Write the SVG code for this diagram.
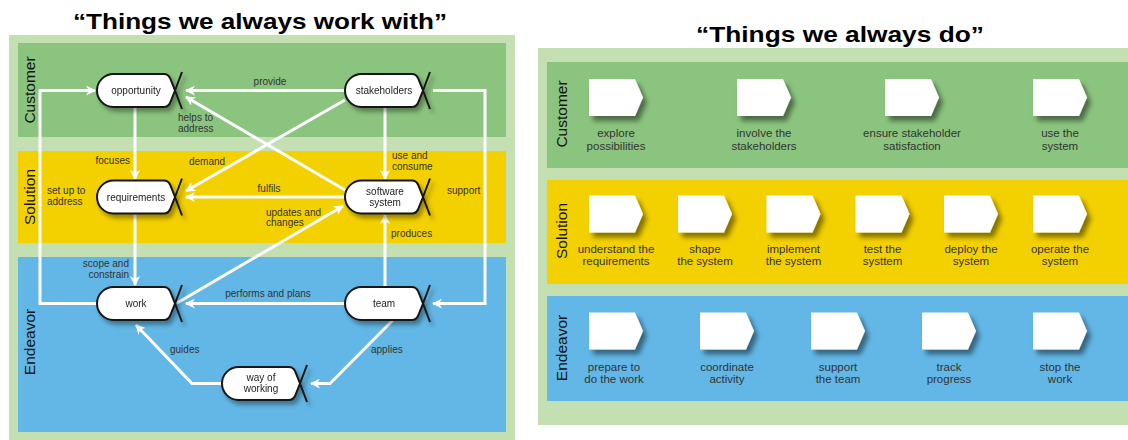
<svg xmlns="http://www.w3.org/2000/svg" width="1128" height="440" viewBox="0 0 1128 440">
  <style>
    .title { font-family: "Liberation Sans", Arial, sans-serif; font-weight: bold; font-size: 22px; fill: #000; }
    .lane { font-family: "Liberation Sans", Arial, sans-serif; font-size: 15.5px; fill: #111; }
    .lbl { font-family: "Liberation Sans", Arial, sans-serif; font-size: 10px; fill: #333; }
    .nlbl { font-family: "Liberation Sans", Arial, sans-serif; font-size: 10px; fill: #222; text-anchor: middle; }
    .alpha { font-family: "Liberation Sans", Arial, sans-serif; font-size: 11.5px; fill: #333; text-anchor: middle; }
    .conn { fill: none; stroke: #fff; stroke-width: 3; stroke-linejoin: miter; }
    .pill { fill: #fff; stroke: #151515; stroke-width: 2; }
    .xline { fill: none; stroke: #151515; stroke-width: 2; }
    .chev { fill: #fff; }
    .outer { fill: #c4dfb1; }
    .cust { fill: #8bc47e; }
    .sol { fill: #f3d000; }
    .end { fill: #62b7e6; }
  </style>
  <defs>
    <marker id="ah" viewBox="0 0 10 10" refX="9" refY="5" markerWidth="10" markerHeight="10" markerUnits="userSpaceOnUse" orient="auto">
      <path d="M0,0 L10,5 L0,10 L3,5 Z" fill="#fff"/>
    </marker>
    <filter id="nshadow" x="-20%" y="-40%" width="150%" height="190%">
      <feDropShadow dx="3" dy="4" stdDeviation="2" flood-color="#000" flood-opacity="0.35"/>
    </filter>
    <filter id="cshadow" x="-30%" y="-30%" width="170%" height="170%">
      <feDropShadow dx="4" dy="5" stdDeviation="2.5" flood-color="#000" flood-opacity="0.45"/>
    </filter>
    <!-- rounded state node with crossed tail, origin at top-left -->
    <g id="node">
      <path class="pill" d="M16.5,0 H67 Q71,0 73,4 L78,16.5 L73,29 Q71,33 67,33 H16.5 A16.5,16.5 0 0 1 16.5,0 Z"/>
      <path class="xline" d="M78,16.5 L85,35 M78,16.5 L85,-2"/>
    </g>
    <!-- activity space shape -->
    <path id="act" class="chev" d="M0,0 H46 L54,18.5 L46,37 H0 Z"/>
  </defs>

  <!-- ===== Alphas: things we always work with ===== -->
  <text class="title" x="260" y="29" text-anchor="middle" textLength="374" lengthAdjust="spacingAndGlyphs">“Things we always work with”</text>
  <g id="alpha-lanes">
    <rect class="outer" x="9" y="35" width="506" height="405"/>
    <rect class="cust" x="18" y="43" width="488" height="94"/>
    <rect class="sol" x="18" y="151" width="488" height="92"/>
    <rect class="end" x="18" y="257" width="488" height="175"/>
    <text class="lane" transform="translate(35,90) rotate(-90)" text-anchor="middle">Customer</text>
    <text class="lane" transform="translate(35,197) rotate(-90)" text-anchor="middle">Solution</text>
    <text class="lane" transform="translate(35,342) rotate(-90)" text-anchor="middle">Endeavor</text>
  </g>

  <g id="connectors">
    <path class="conn" marker-end="url(#ah)" d="M345,90.5 H186"/>
    <path class="conn" marker-end="url(#ah)" d="M97,303.5 H40 V90.5 H95"/>
    <path class="conn" marker-end="url(#ah)" d="M135,107 V179"/>
    <path class="conn" marker-end="url(#ah)" d="M135,213.5 V285"/>
    <path class="conn" marker-end="url(#ah)" d="M345,100 L186,191"/>
    <path class="conn" marker-end="url(#ah)" d="M345,190 L186,97"/>
    <path class="conn" marker-end="url(#ah)" d="M345,197 H186"/>
    <path class="conn" marker-end="url(#ah)" d="M177,303 L343,206"/>
    <path class="conn" marker-end="url(#ah)" d="M385,107 V179"/>
    <path class="conn" marker-end="url(#ah)" d="M385,287 V215"/>
    <path class="conn" marker-end="url(#ah)" d="M433,90.5 H485 V303.5 H433"/>
    <path class="conn" marker-end="url(#ah)" d="M345,303.5 H186"/>
    <path class="conn" marker-end="url(#ah)" d="M393,320 L330,383.5 H311"/>
    <path class="conn" marker-end="url(#ah)" d="M222,383.5 H192 L136,325"/>

    <text class="lbl" x="270" y="85" text-anchor="middle">provide</text>
    <text class="lbl" x="47" y="194">set up to</text>
    <text class="lbl" x="47" y="205">address</text>
    <text class="lbl" x="130" y="164" text-anchor="end">focuses</text>
    <text class="lbl" x="129" y="267" text-anchor="end">scope and</text>
    <text class="lbl" x="129" y="278" text-anchor="end">constrain</text>
    <text class="lbl" x="189" y="165">demand</text>
    <text class="lbl" x="178" y="121">helps to</text>
    <text class="lbl" x="178" y="132">address</text>
    <text class="lbl" x="269" y="192" text-anchor="middle">fulfils</text>
    <text class="lbl" x="266" y="216">updates and</text>
    <text class="lbl" x="266" y="226">changes</text>
    <text class="lbl" x="392" y="159">use and</text>
    <text class="lbl" x="392" y="170">consume</text>
    <text class="lbl" x="391" y="237">produces</text>
    <text class="lbl" x="447" y="194">support</text>
    <text class="lbl" x="268" y="297" text-anchor="middle">performs and plans</text>
    <text class="lbl" x="371" y="353">applies</text>
    <text class="lbl" x="170" y="353">guides</text>
  </g>

  <g id="opportunity" filter="url(#nshadow)">
    <use href="#node" x="97" y="74"/>
    <text class="nlbl" x="136" y="94">opportunity</text>
  </g>
  <g id="stakeholders" filter="url(#nshadow)">
    <use href="#node" x="345" y="74"/>
    <text class="nlbl" x="384" y="94">stakeholders</text>
  </g>
  <g id="requirements" filter="url(#nshadow)">
    <use href="#node" x="97" y="180.5"/>
    <text class="nlbl" x="136" y="201">requirements</text>
  </g>
  <g id="software-system" filter="url(#nshadow)">
    <use href="#node" x="345" y="180.5"/>
    <text class="nlbl" x="385" y="195">software</text>
    <text class="nlbl" x="385" y="206">system</text>
  </g>
  <g id="work" filter="url(#nshadow)">
    <use href="#node" x="97" y="287"/>
    <text class="nlbl" x="136" y="307">work</text>
  </g>
  <g id="team" filter="url(#nshadow)">
    <use href="#node" x="345" y="287"/>
    <text class="nlbl" x="384" y="307">team</text>
  </g>
  <g id="way-of-working" filter="url(#nshadow)">
    <use href="#node" x="222" y="367"/>
    <text class="nlbl" x="261" y="381">way of</text>
    <text class="nlbl" x="261" y="392">working</text>
  </g>

  <!-- ===== Activity spaces: things we always do ===== -->
  <text class="title" x="840" y="42" text-anchor="middle" textLength="288" lengthAdjust="spacingAndGlyphs">“Things we always do”</text>
  <g id="activity-lanes">
    <rect class="outer" x="538" y="48" width="590" height="377"/>
    <rect class="cust" x="547" y="62" width="581" height="106"/>
    <rect class="sol" x="547" y="180" width="581" height="104"/>
    <rect class="end" x="547" y="296" width="581" height="105"/>
    <text class="lane" transform="translate(567,114) rotate(-90)" text-anchor="middle">Customer</text>
    <text class="lane" transform="translate(567,231) rotate(-90)" text-anchor="middle">Solution</text>
    <text class="lane" transform="translate(567,348) rotate(-90)" text-anchor="middle">Endeavor</text>
  </g>

  <g id="explore-possibilities">
    <use href="#act" x="589" y="79" filter="url(#cshadow)"/>
    <text class="alpha" x="616" y="137">explore</text>
    <text class="alpha" x="616" y="150">possibilities</text>
  </g>
  <g id="involve-the-stakeholders">
    <use href="#act" x="737" y="79" filter="url(#cshadow)"/>
    <text class="alpha" x="764" y="137">involve the</text>
    <text class="alpha" x="764" y="150">stakeholders</text>
  </g>
  <g id="ensure-stakeholder-satisfaction">
    <use href="#act" x="885" y="79" filter="url(#cshadow)"/>
    <text class="alpha" x="912" y="137">ensure stakeholder</text>
    <text class="alpha" x="912" y="150">satisfaction</text>
  </g>
  <g id="use-the-system">
    <use href="#act" x="1033" y="79" filter="url(#cshadow)"/>
    <text class="alpha" x="1060" y="137">use the</text>
    <text class="alpha" x="1060" y="150">system</text>
  </g>

  <g id="understand-the-requirements">
    <use href="#act" x="589" y="195.5" filter="url(#cshadow)"/>
    <text class="alpha" x="616" y="253">understand the</text>
    <text class="alpha" x="616" y="265">requirements</text>
  </g>
  <g id="shape-the-system">
    <use href="#act" x="678" y="195.5" filter="url(#cshadow)"/>
    <text class="alpha" x="705" y="253">shape</text>
    <text class="alpha" x="705" y="265">the system</text>
  </g>
  <g id="implement-the-system">
    <use href="#act" x="766.5" y="195.5" filter="url(#cshadow)"/>
    <text class="alpha" x="793.5" y="253">implement</text>
    <text class="alpha" x="793.5" y="265">the system</text>
  </g>
  <g id="test-the-system">
    <use href="#act" x="855.5" y="195.5" filter="url(#cshadow)"/>
    <text class="alpha" x="882.5" y="253">test the</text>
    <text class="alpha" x="882.5" y="265">systtem</text>
  </g>
  <g id="deploy-the-system">
    <use href="#act" x="944" y="195.5" filter="url(#cshadow)"/>
    <text class="alpha" x="971" y="253">deploy the</text>
    <text class="alpha" x="971" y="265">system</text>
  </g>
  <g id="operate-the-system">
    <use href="#act" x="1033" y="195.5" filter="url(#cshadow)"/>
    <text class="alpha" x="1060" y="253">operate the</text>
    <text class="alpha" x="1060" y="265">system</text>
  </g>

  <g id="prepare-to-do-the-work">
    <use href="#act" x="589" y="312.5" filter="url(#cshadow)"/>
    <text class="alpha" x="614" y="371">prepare to</text>
    <text class="alpha" x="614" y="383">do the work</text>
  </g>
  <g id="coordinate-activity">
    <use href="#act" x="700" y="312.5" filter="url(#cshadow)"/>
    <text class="alpha" x="727" y="371">coordinate</text>
    <text class="alpha" x="727" y="383">activity</text>
  </g>
  <g id="support-the-team">
    <use href="#act" x="811" y="312.5" filter="url(#cshadow)"/>
    <text class="alpha" x="838" y="371">support</text>
    <text class="alpha" x="838" y="383">the team</text>
  </g>
  <g id="track-progress">
    <use href="#act" x="922" y="312.5" filter="url(#cshadow)"/>
    <text class="alpha" x="949" y="371">track</text>
    <text class="alpha" x="949" y="383">progress</text>
  </g>
  <g id="stop-the-work">
    <use href="#act" x="1033" y="312.5" filter="url(#cshadow)"/>
    <text class="alpha" x="1060" y="371">stop the</text>
    <text class="alpha" x="1060" y="383">work</text>
  </g>
</svg>
